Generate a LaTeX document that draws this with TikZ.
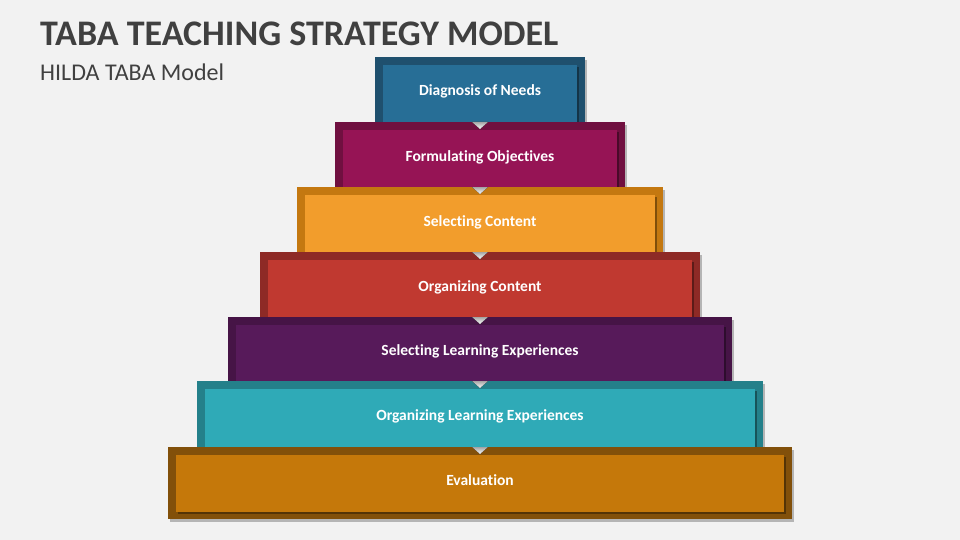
\documentclass[tikz,border=0pt]{standalone}
\usepackage{fontspec}
\setmainfont[Ligatures=NoCommon,RawFeature={-calt;-dlig}]{Carlito}
\usetikzlibrary{shadows}
\definecolor{bg}{HTML}{F2F2F2}
\definecolor{titlec}{HTML}{404040}
\definecolor{ai}{RGB}{39,110,150}  \definecolor{ao}{RGB}{31,80,110}
\definecolor{bi}{RGB}{150,20,85}   \definecolor{bo}{RGB}{112,16,64}
\definecolor{ci}{RGB}{242,157,44}  \definecolor{co}{RGB}{196,120,16}
\definecolor{di}{RGB}{192,57,48}   \definecolor{do}{RGB}{142,42,38}
\definecolor{ei}{RGB}{87,26,90}    \definecolor{eo}{RGB}{70,20,70}
\definecolor{fi}{RGB}{47,170,183}  \definecolor{fo}{RGB}{36,128,138}
\definecolor{gi}{RGB}{197,120,10}  \definecolor{go}{RGB}{130,80,10}
\definecolor{notchtop}{RGB}{165,165,165}
\tikzset{
  outerbox/.style={fill=#1, draw=none, inner sep=0pt, anchor=north west,
    drop shadow={shadow xshift=2pt, shadow yshift=-2.5pt, opacity=0.25, fill=black}},
  innerbox/.style={fill=#1, draw=none, inner sep=0pt, anchor=north west,
    drop shadow={shadow xshift=2pt, shadow yshift=-2pt, opacity=0.35, fill=black}},
  lbl/.style={text=white, font=\fontsize{15.5}{18}\selectfont\bfseries, inner sep=0pt, anchor=base},
  notch/.style={top color=notchtop, bottom color=white, draw=none},
  titletext/.style={text=titlec, font=\fontsize{36}{42}\selectfont\bfseries, anchor=base west, inner sep=0pt},
  subtext/.style={text=titlec, font=\fontsize{24}{28}\selectfont, anchor=base west, inner sep=0pt}
}
\begin{document}
\begin{tikzpicture}[x=1pt,y=-1pt]
\fill[bg] (0,0) rectangle (960,540);
\useasboundingbox (0,0) rectangle (960,540);
\node[titletext] (title) at (40,46) {TABA TEACHING STRATEGY MODEL};
\node[subtext] (sub) at (40,81) {HILDA TABA Model};
% layers: name/left/right/top/bottom/innerbottom/baseline/inner/outer/text
\foreach \n/\l/\r/\t/\b/\ib/\ty/\ci/\co/\txt in {
  1/375/585/57/122/122/96/ai/ao/Diagnosis of Needs,
  2/335/625/122/187/187/161/bi/bo/Formulat\kern0pt ing Objectives,
  3/297/663/187/252/252/226/ci/co/Select\kern0pt ing Content,
  4/260/700/252/317/317/291/di/do/Organizing Content,
  5/228/732/317/381/381/355/ei/eo/Select\kern0pt ing Learning Experiences,
  6/197/763/381/447/447/420/fi/fo/Organizing Learning Experiences,
  7/168/792/447/519/512/485/gi/go/Evaluat\kern0pt ion}{
  \pgfmathsetmacro{\ow}{\r-\l}
  \pgfmathsetmacro{\oh}{\b-\t}
  \pgfmathsetmacro{\iw}{\r-\l-16}
  \pgfmathsetmacro{\ih}{\ib-\t-8}
  \node[outerbox=\co, minimum width=\ow pt, minimum height=\oh pt] (o\n) at (\l,\t) {};
  \node[innerbox=\ci, minimum width=\iw pt, minimum height=\ih pt] (i\n) at (\l+8,\t+8) {};
  \node[lbl] (t\n) at (480,\ty) {\txt};
}
% notches between layers
\foreach \y in {122,187,252,317,381,447}{
  \fill[notch] (472,\y) -- (488,\y) -- (480,\y+7) -- cycle;
}
\end{tikzpicture}
\end{document}
